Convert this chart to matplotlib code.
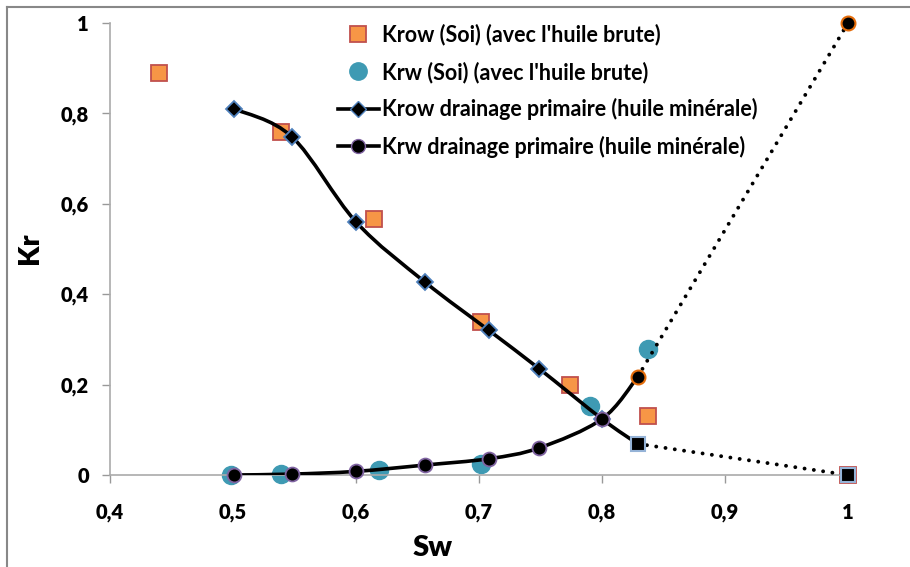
import numpy as np
import matplotlib
matplotlib.use("Agg")
import matplotlib.pyplot as plt
from matplotlib.path import Path
from matplotlib.patches import PathPatch
from matplotlib.lines import Line2D
from matplotlib.ticker import FuncFormatter

plt.rcParams['font.family'] = ['Lato', 'DejaVu Sans']
plt.rcParams['font.weight'] = 'bold'

# huile brute (points)
sw_krow_brute = [0.44, 0.539, 0.615, 0.702, 0.774, 0.837, 1.0]
krow_brute = [0.889, 0.759, 0.566, 0.338, 0.199, 0.130, 0.0]
sw_krw_brute = [0.498, 0.539, 0.619, 0.702, 0.79, 0.837]
krw_brute = [0.0, 0.002, 0.012, 0.025, 0.152, 0.279]

# drainage primaire (huile minerale)
sw_drain = [0.501, 0.548, 0.600, 0.656, 0.708, 0.749, 0.800, 0.829]
krow_drain = [0.810, 0.748, 0.560, 0.427, 0.320, 0.235, 0.124, 0.069]
krw_drain = [0.000, 0.002, 0.008, 0.022, 0.036, 0.060, 0.124, 0.217]

# prolongement jusqu'a Sw = 1
sw_ext = [0.829, 1.0]
krow_ext = [0.069, 0.0]
krw_ext = [0.217, 1.0]

xticks = [0.4, 0.5, 0.6, 0.7, 0.8, 0.9, 1.0]
yticks = [0, 0.2, 0.4, 0.6, 0.8, 1.0]


def smooth_path(x, y):
    # courbe lissee facon Excel (Bezier / Catmull-Rom)
    p = np.column_stack([x, y])
    n = len(p)
    verts = [p[0]]
    codes = [Path.MOVETO]
    for i in range(n - 1):
        p0 = p[i - 1] if i > 0 else p[i]
        p3 = p[i + 2] if i + 2 < n else p[i + 1]
        c1 = p[i] + (p[i + 1] - p0) / 6.0
        c2 = p[i + 1] - (p3 - p[i]) / 6.0
        verts += [c1, c2, p[i + 1]]
        codes += [Path.CURVE4] * 3
    return Path(verts, codes)


fig = plt.figure(figsize=(9.1, 5.67), dpi=100)
ax = fig.add_axes([110 / 910, 1 - 475 / 567, (848 - 110) / 910, (475 - 23) / 567])

# cadre du graphique
fig.add_artist(Line2D([7 / 910, 7 / 910], [0, 1 - 7 / 567], transform=fig.transFigure,
                      color='#888888', lw=1.5))
fig.add_artist(Line2D([7 / 910, 1], [1 - 7 / 567, 1 - 7 / 567], transform=fig.transFigure,
                      color='#888888', lw=1.5))

# lignes lissees
ax.add_patch(PathPatch(smooth_path(sw_drain, krow_drain), fill=False, lw=2.6,
                       edgecolor='black', zorder=3))
ax.add_patch(PathPatch(smooth_path(sw_drain, krw_drain), fill=False, lw=2.6,
                       edgecolor='black', zorder=3))

# prolongements pointilles
dots = (0, (0.01, 2.4))
ax.plot(sw_ext, krow_ext, color='black', lw=2.8, ls=dots,
        dash_capstyle='round', zorder=3)
ax.plot(sw_ext, krw_ext, color='black', lw=2.8, ls=dots,
        dash_capstyle='round', zorder=3)

# points huile brute
ax.plot(sw_krow_brute, krow_brute, 's', ms=11.5, mfc='#F79646', mec='#C0504D',
        mew=1.3, zorder=2, clip_on=False)
ax.plot(sw_krw_brute, krw_brute, 'o', ms=13, mfc='#3E9AB3', mec='#3E9AB3',
        zorder=2, clip_on=False)

# marqueurs drainage
ax.plot(sw_drain[:-1], krow_drain[:-1], 'D', ms=8.5, mfc='black', mec='#4F81BD',
        mew=1.3, zorder=4)
ax.plot(sw_drain[:-1], krw_drain[:-1], 'o', ms=10, mfc='black', mec='#8064A2',
        mew=1.3, zorder=4, clip_on=False)
ax.plot(sw_ext, krow_ext, 's', ms=10, mfc='black', mec='#95B3D7', mew=1.5,
        zorder=5, clip_on=False)
ax.plot(sw_ext, krw_ext, 'o', ms=10, mfc='black', mec='#E46C0A', mew=1.5,
        zorder=5, clip_on=False)

ax.set_xlim(0.4, 1.0)
ax.set_ylim(0, 1.0)
ax.set_xticks(xticks)
ax.set_yticks(yticks)
fmt = FuncFormatter(lambda v, pos: ('%g' % v).replace('.', ','))
ax.xaxis.set_major_formatter(fmt)
ax.yaxis.set_major_formatter(fmt)
ax.tick_params(axis='both', length=6, width=1, color='#999999', labelsize=14.5,
               direction='out')
ax.tick_params(axis='x', pad=14)
ax.tick_params(axis='y', pad=9)
for lab in ax.get_xticklabels() + ax.get_yticklabels():
    lab.set_fontweight('heavy')
for s in ['top', 'right']:
    ax.spines[s].set_visible(False)
for s in ['left', 'bottom']:
    ax.spines[s].set_color('#AAAAAA')
    ax.spines[s].set_linewidth(1.2)

fig.text(433 / 910, 1 - 548 / 567, 'Sw', fontsize=21, fontweight='heavy',
         ha='center', va='center')
fig.text(30 / 910, 1 - 248 / 567, 'Kr', fontsize=21, fontweight='heavy',
         ha='center', va='center', rotation=90)

handles = [
    Line2D([], [], ls='none', marker='s', ms=11.5, mfc='#F79646', mec='#C0504D', mew=1.3),
    Line2D([], [], ls='none', marker='o', ms=12.5, mfc='#3E9AB3', mec='#3E9AB3'),
    Line2D([], [], color='black', lw=2.6, marker='D', ms=8.5, mfc='black', mec='#4F81BD'),
    Line2D([], [], color='black', lw=2.6, marker='o', ms=10, mfc='black', mec='#8064A2'),
]
labels = ["Krow (Soi) (avec l'huile brute)", "Krw (Soi) (avec l'huile brute)",
          "Krow drainage primaire (huile minérale)", "Krw drainage primaire (huile minérale)"]
leg = fig.legend(handles, labels, loc='upper left',
                 bbox_to_anchor=(338 / 910, 1 - 24 / 567), frameon=False,
                 prop={'size': 15.5, 'weight': 'bold'}, handlelength=1.9,
                 handletextpad=0.15, labelspacing=0.72, borderpad=0, borderaxespad=0)

fig.savefig('out.png', dpi=100)
